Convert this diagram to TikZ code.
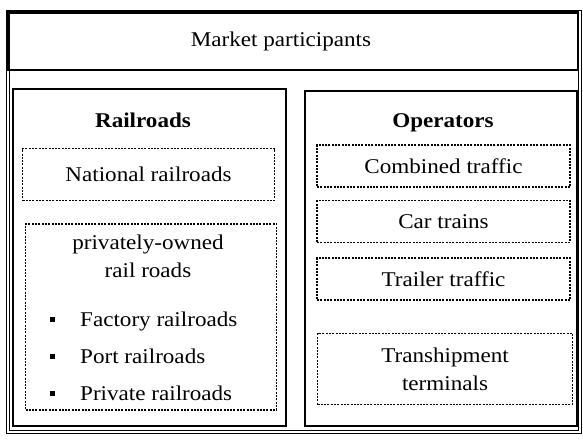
\documentclass[tikz,border=0pt]{standalone}
\usepackage{fontspec}
\setmainfont[FakeStretch=1.1]{Liberation Serif}
\usepackage{tikz}

\tikzset{
    panel/.style={draw, line width=1.1pt, inner sep=0pt},
    dotbox/.style={draw, line width=1.9pt, dash pattern=on 2pt off 1.3pt, inner sep=0pt},
    txt/.style={font=\fontsize{21}{28}\selectfont, inner sep=0pt},
    heading/.style={font=\fontsize{21}{28}\selectfont\bfseries, inner sep=0pt, anchor=base},
    bullet/.style={fill, minimum size=5pt, inner sep=0pt},
}

\begin{document}
\begin{tikzpicture}[x=1pt, y=-1pt]
\useasboundingbox (0,0) rectangle (583,440);
\draw[double, double distance=2pt, line width=0.9pt] (8,12) rectangle (580,432);
\node[panel, minimum width=570, minimum height=58] (market) at (293,41) {};
\node[txt] (markettitle) at (281,41) {Market participants};

\node[panel, minimum width=273, minimum height=337] (rail) at (149.5,257.5) {};
\node[panel, minimum width=272, minimum height=335] (oper) at (441,258.5) {};
\node[heading] (railtitle) at (143,127) {Railroads};
\node[heading] (opertitle) at (443,127) {Operators};

\node[dotbox, txt, minimum width=252, minimum height=52] (national) at (148.5,174.5) {National railroads};
\node[dotbox, minimum width=251, minimum height=186] (private) at (151,317) {};
\node[txt, align=center] (privtitle) at (148,256) {privately-owned\\rail roads};
\foreach \t/\y [count=\i] in {Factory railroads/326, Port railroads/363, Private railroads/400}{
    \node[bullet] (b\i) at (52,\y-7) {};
    \node[txt, anchor=base west] (item\i) at (80,\y) {\t};
}

\foreach \t/\y [count=\i] in {Combined traffic/166, Car trains/221.5, Trailer traffic/279}{
    \node[dotbox, txt, minimum width=253, minimum height=42] (op\i) at (443.5,\y) {\t};
}
\node[dotbox, txt, align=center, minimum width=255, minimum height=71] (terminals) at (445,369) {Transhipment\\terminals};
\end{tikzpicture}
\end{document}
